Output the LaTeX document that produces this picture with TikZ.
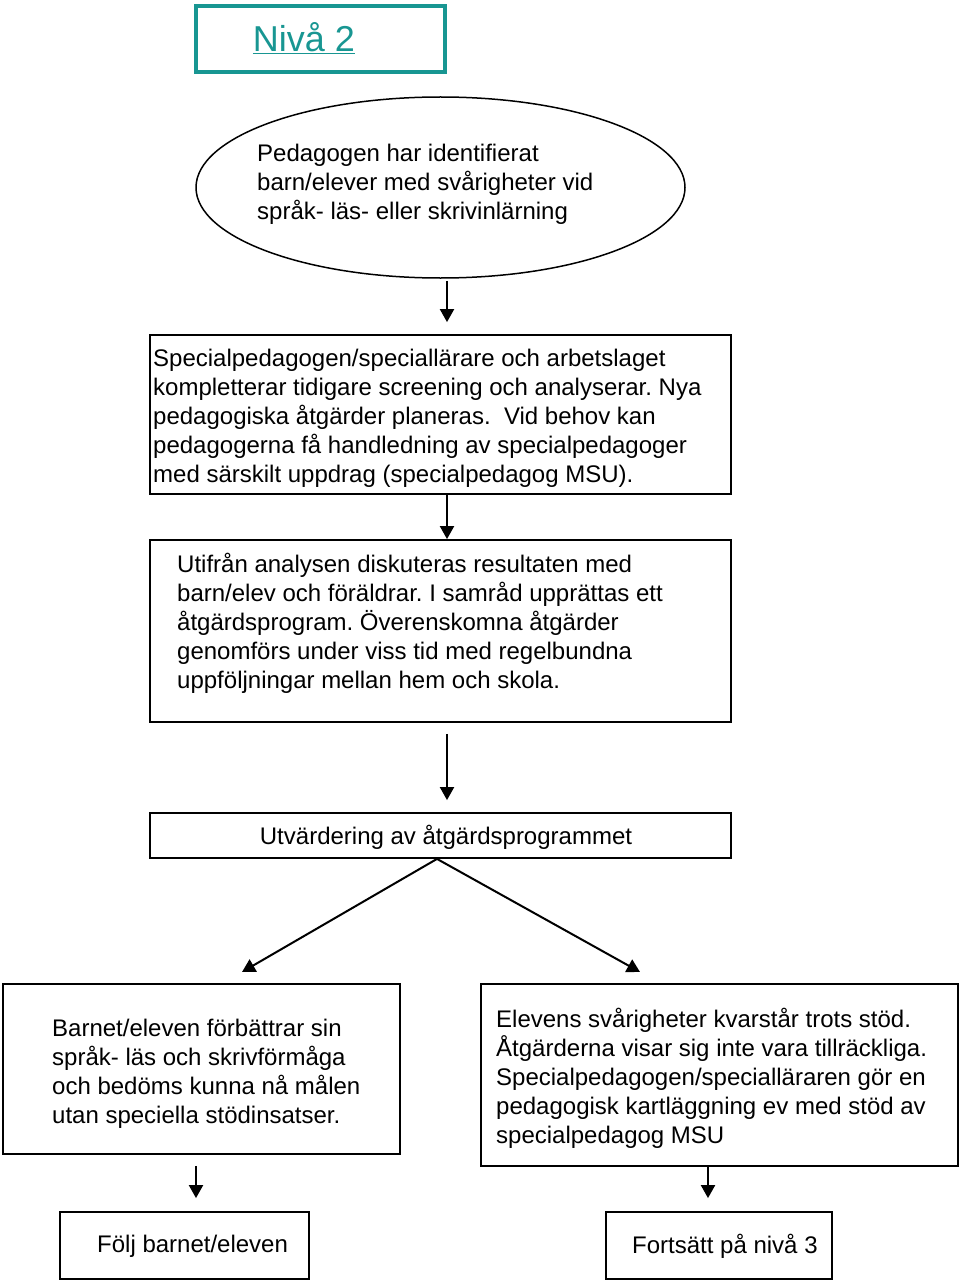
\documentclass[tikz,border=0pt]{standalone}
\usepackage{fontspec}
\setmainfont{Liberation Sans}
\usetikzlibrary{positioning,arrows.meta,shapes.geometric}
\definecolor{niva}{RGB}{24,150,146}
\frenchspacing
\tikzset{
	box/.style={draw, line width=1.8pt, rectangle, inner sep=0pt},
	txt/.style={inner sep=0pt, align=left, anchor=west, font=\fontsize{24}{29}\selectfont},
	arr/.style={-{Triangle[length=13pt,width=14pt]}, line width=2pt},
}
\begin{document}
\begin{tikzpicture}[x=1pt,y=-1pt]
\useasboundingbox (0,0) rectangle (960,1284);

		\node[draw=niva, line width=4pt, minimum width=249, minimum height=66, inner sep=0pt] (niva) at (320.5,39){};
		\node[inner sep=0pt, text=niva, font=\fontsize{36}{40}\selectfont] (nivatxt) at (304,38){\underline{Nivå 2}};

		\node[draw, ellipse, line width=1.5pt, minimum width=489, minimum height=181, inner sep=0pt] (ell) at (440.5,187.5){};
		\node[txt] (elltxt) at (257,184){Pedagogen har identifierat\\barn/elever med svårigheter vid\\språk- läs- eller skrivinlärning};

		\node[box, minimum width=581, minimum height=159] (spec) at (440.5,414.5){};
		\node[txt] (spectxt) at (153,418){Specialpedagogen/speciallärare och arbetslaget\\kompletterar tidigare screening och analyserar. Nya\\pedagogiska åtgärder planeras.\ \ Vid behov kan\\pedagogerna få handledning av specialpedagoger\\med särskilt uppdrag (specialpedagog MSU).};

		\node[box, minimum width=581, minimum height=182] (prog) at (440.5,631){};
		\node[txt] (progtxt) at (177,623){Utifrån analysen diskuteras resultaten med\\barn/elev och föräldrar. I samråd upprättas ett\\åtgärdsprogram. Överenskomna åtgärder\\genomförs under viss tid med regelbundna\\uppföljningar mellan hem och skola.};

		\node[box, minimum width=581, minimum height=45] (utv) at (440.5,835.5){};
		\node[txt, anchor=center] (utvtxt) at (446,837){Utvärdering av åtgärdsprogrammet};

		\node[box, minimum width=397, minimum height=170] (bra) at (201.5,1069){};
		\node[txt] (bratxt) at (52,1074){Barnet/eleven förbättrar sin\\språk- läs och skrivförmåga\\och bedöms kunna nå målen\\utan speciella stödinsatser.};

		\node[box, minimum width=477, minimum height=182] (kvar) at (719.5,1075){};
		\node[txt] (kvartxt) at (496,1078){Elevens svårigheter kvarstår trots stöd.\\Åtgärderna visar sig inte vara tillräckliga.\\Specialpedagogen/specialläraren gör en\\pedagogisk kartläggning ev med stöd av\\specialpedagog MSU};

		\node[box, minimum width=249, minimum height=67] (folj) at (184.5,1245.5){};
		\node[txt] (foljtxt) at (97,1246){Följ barnet/eleven};

		\node[box, minimum width=226, minimum height=67] (niva3) at (719,1245.5){};
		\node[txt] (niva3txt) at (632,1246){Fortsätt på nivå 3};

		\coordinate (vl) at (242,972);
		\coordinate (vr) at (640,972);

		\draw[arr, shorten <=2pt, shorten >=12pt] ([xshift=6.5pt]ell.south) -- ([xshift=6.5pt]spec.north);
		\draw[arr] ([xshift=6.5pt]spec.south) -- ([xshift=6.5pt]prog.north);
		\draw[arr, shorten <=11pt, shorten >=12pt] ([xshift=6.5pt]prog.south) -- ([xshift=6.5pt]utv.north);
		\draw[arr] ([xshift=-3.5pt]utv.south) -- (vl);
		\draw[arr] ([xshift=-3.5pt]utv.south) -- (vr);
		\draw[arr, shorten <=11pt, shorten >=13pt] ([xshift=-5.5pt]bra.south) -- ([xshift=11.5pt]folj.north);
		\draw[arr, shorten >=13pt] ([xshift=-11.5pt]kvar.south) -- ([xshift=-11pt]niva3.north);

\end{tikzpicture}
\end{document}
